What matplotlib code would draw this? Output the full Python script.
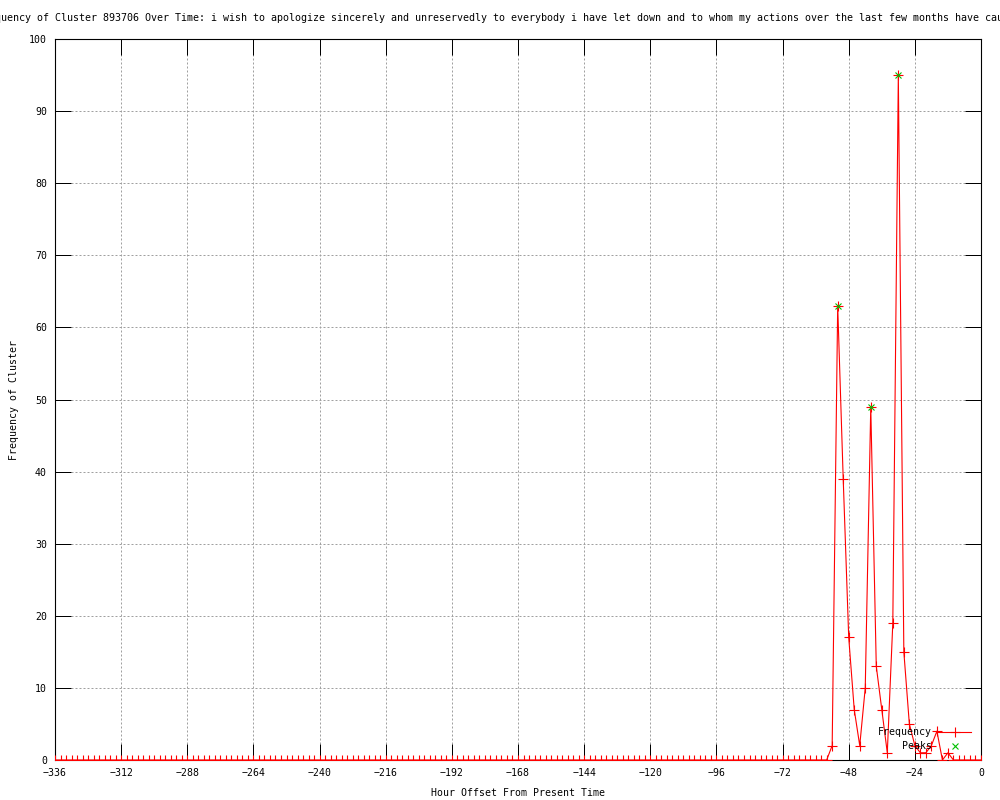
import numpy as np
import matplotlib
matplotlib.use('Agg')
import matplotlib.pyplot as plt

# Horas (cada 2 h) desde -336 hasta 0
horas = np.arange(-336, 1, 2)

# Frecuencia del cluster
frecuencia = [
    0, 0, 0, 0, 0, 0, 0, 0, 0, 0, 0, 0, 0, 0, 0, 0, 0, 0, 0, 0, 0, 0, 0, 0,
    0, 0, 0, 0, 0, 0, 0, 0, 0, 0, 0, 0, 0, 0, 0, 0, 0, 0, 0, 0, 0, 0, 0, 0,
    0, 0, 0, 0, 0, 0, 0, 0, 0, 0, 0, 0, 0, 0, 0, 0, 0, 0, 0, 0, 0, 0, 0, 0,
    0, 0, 0, 0, 0, 0, 0, 0, 0, 0, 0, 0, 0, 0, 0, 0, 0, 0, 0, 0, 0, 0, 0, 0,
    0, 0, 0, 0, 0, 0, 0, 0, 0, 0, 0, 0, 0, 0, 0, 0, 0, 0, 0, 0, 0, 0, 0, 0,
    0, 0, 0, 0, 0, 0, 0, 0, 0, 0, 0, 0, 0, 0, 0, 0, 0, 0, 0, 0, 0,
    2, 63, 39, 17, 7, 2, 10, 49, 13, 7, 1, 19, 95, 15, 5, 2, 1, 1, 2, 4,
    0, 1, 0, 0, 0, 0, 0, 0,
]

# Picos detectados
horas_picos = [-52, -40, -30]
valores_picos = [63, 49, 95]

xticks = list(range(-336, 1, 24))
yticks = list(range(0, 101, 10))

titulo = ('Frequency of Cluster 893706 Over Time: i wish to apologize sincerely and '
          'unreservedly to everybody i have let down and to whom my actions over the '
          'last few months have caused')

plt.rcParams['font.family'] = ['DejaVu Sans Mono']
plt.rcParams['font.size'] = 7.1

fig = plt.figure(figsize=(10, 8), dpi=100)
ax = fig.add_axes([0.055, 0.05, 0.926, 0.90125])

ax.plot(horas, frecuencia, color='red', linewidth=0.8, marker='+',
        markersize=6.5, markeredgewidth=0.8, label='Frequency', zorder=3)
ax.plot(horas_picos, valores_picos, linestyle='none', color='#00c000', marker='x',
        markersize=5, markeredgewidth=0.8, label='    Peaks', zorder=4)

ax.set_xlim(-336, 0)
ax.set_ylim(0, 100)
ax.set_xticks(xticks)
ax.set_yticks(yticks)
ax.set_xticklabels([str(t).replace('-', '\u2212') for t in xticks])

ax.grid(True, color='#a0a0a0', linestyle=(0, (2, 2)), linewidth=0.72)
ax.set_axisbelow(True)
ax.tick_params(direction='in', length=11.5, width=0.72, top=True, right=True,
               pad=5.8, colors='black')
for s in ax.spines.values():
    s.set_linewidth(0.8)

ax.set_xlabel('Hour Offset From Present Time')
ax.set_ylabel('Frequency of Cluster')
ax.xaxis.set_label_coords(0.5, -0.039)
ax.yaxis.set_label_coords(-0.039, 0.5)

# El titulo es mas ancho que la imagen y queda cortado por ambos lados
fig.text(-23 / 1000, 1 - 18 / 800, titulo, ha='left', va='center', fontsize=7.17)

ax.legend(loc='upper right', bbox_to_anchor=(0.971, 1 - 727 / 800),
          bbox_transform=fig.transFigure, frameon=False, numpoints=1,
          markerfirst=False, handlelength=3.3, handletextpad=0.7,
          borderpad=0, borderaxespad=0, labelspacing=0.45)

fig.savefig('out.png', dpi=100)
